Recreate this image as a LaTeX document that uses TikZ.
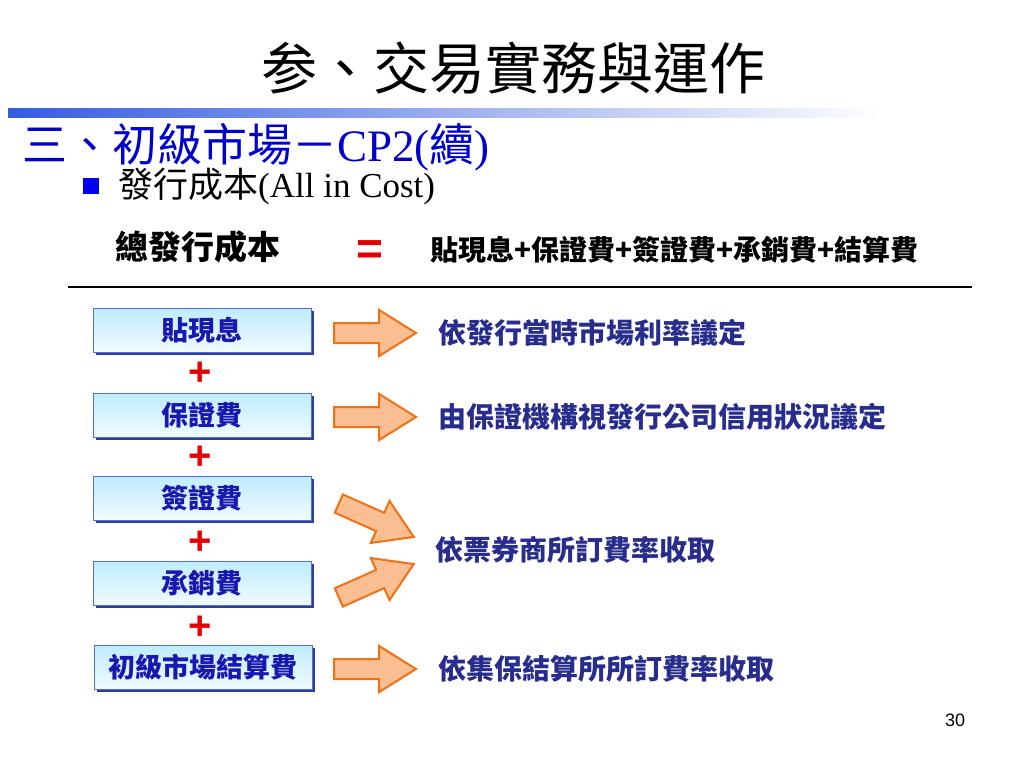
\documentclass[tikz,border=0pt]{standalone}
\usepackage{fontspec}
\setmainfont{Liberation Serif}
\newfontfamily\cjk{Noto Sans CJK TC}
\newfontfamily\arialfont{Liberation Sans}
\usepackage{xcolor}
\usetikzlibrary{positioning,shapes.arrows,shadows}

\newcommand{\setfs}[1]{\fontsize{#1}{#1}\selectfont}

\definecolor{barblue}{RGB}{52,92,224}
\definecolor{headblue}{RGB}{0,0,204}
\definecolor{bulletblue}{RGB}{0,0,240}
\definecolor{boxtext}{RGB}{24,24,176}
\definecolor{notetext}{RGB}{40,44,140}
\definecolor{boxtop}{RGB}{190,236,255}
\definecolor{boxbot}{RGB}{240,251,255}
\definecolor{boxedge}{RGB}{84,112,204}
\definecolor{boxshadow}{RGB}{44,62,150}
\definecolor{arrowfill}{RGB}{249,190,145}
\definecolor{arrowedge}{RGB}{240,112,20}
\definecolor{plusred}{RGB}{228,0,0}

\begin{document}
\begin{tikzpicture}[
    x=1pt, y=-1pt,
    costbox/.style={rectangle, draw=boxedge, line width=1pt,
                    top color=boxtop, bottom color=boxbot,
                    minimum width=218pt, minimum height=44pt, inner sep=0pt,
                    font=\cjk\bfseries\setfs{27}, text=boxtext,
                    drop shadow={shadow xshift=2.5pt, shadow yshift=-2.5pt,
                                 fill=boxshadow, opacity=1}},
    plussign/.style={font=\arialfont\bfseries\setfs{40}, text=plusred, inner sep=0pt},
    fatarrow/.style={single arrow, draw=arrowedge, fill=arrowfill, line width=2pt,
                     minimum height=82pt, inner xsep=0pt, inner ysep=9pt,
                     single arrow head extend=13pt, single arrow tip angle=64},
    note/.style={font=\cjk\bfseries\setfs{28}, text=notetext, inner sep=0pt, anchor=west}
  ]
    \useasboundingbox (0,0) rectangle (1024,768);

    % title and heading
    \node[font=\cjk\setfs{56}, inner sep=0pt] (title) at (513,68) {参、交易實務與運作};
    \shade[left color=barblue, right color=white] (8,108) rectangle (880,117);
    \node[font=\setfs{45}, text=headblue, inner sep=0pt, anchor=west] (head) at (22,147)
      {{\cjk 三、初級市場－}CP2({\cjk 續})};
    \node[fill=bulletblue, minimum size=16pt, inner sep=0pt] (bullet) at (91,186) {};
    \node[font=\setfs{35}, inner sep=0pt, anchor=west] (sub) at (118,187)
      {{\cjk 發行成本}(All in Cost)};

    % formula
    \node[font=\cjk\bfseries\setfs{33}, inner sep=0pt] (total) at (198,247) {總發行成本};
    \node[font=\arialfont\bfseries\setfs{46}, text=plusred, inner sep=0pt] (equal) at (370,253) {=};
    \node[font=\cjk\bfseries\setfs{28}, inner sep=0pt, anchor=west] (sum) at (430,250)
      {貼現息+保證費+簽證費+承銷費+結算費};
    \draw[line width=2pt] (68,287) -- (972,287);

    % cost items
    \node[costbox] (disc)  at (202,330) {貼現息};
    \node[costbox] (guar)  at (202,415) {保證費};
    \node[costbox] (cert)  at (202,498) {簽證費};
    \node[costbox] (under) at (202,583) {承銷費};
    \node[costbox] (settle) at (203,667) {初級市場結算費};

    \node[plussign] (p1) at (200,374) {+};
    \node[plussign] (p2) at (200,458) {+};
    \node[plussign] (p3) at (200,543) {+};
    \node[plussign] (p4) at (200,628) {+};

    % arrows
    \node[fatarrow] (a1) at (367,333) {};
    \node[fatarrow] (a2) at (367,417) {};
    \node[fatarrow, rotate=-24] (a3) at (369,517) {};
    \node[fatarrow, rotate=24]  (a4) at (369,584) {};
    \node[fatarrow] (a5) at (367,669) {};

    % notes
    \node[note, right=20pt of a1] (n1) {依發行當時市場利率議定};
    \node[note, right=20pt of a2] (n2) {由保證機構視發行公司信用狀況議定};
    \node[note] (n3) at (435,550) {依票券商所訂費率收取};
    \node[note, right=20pt of a5] (n5) {依集保結算所所訂費率收取};

    \node[font=\arialfont\setfs{18}, inner sep=0pt] (page) at (955,720) {30};
  \end{tikzpicture}
\end{document}
